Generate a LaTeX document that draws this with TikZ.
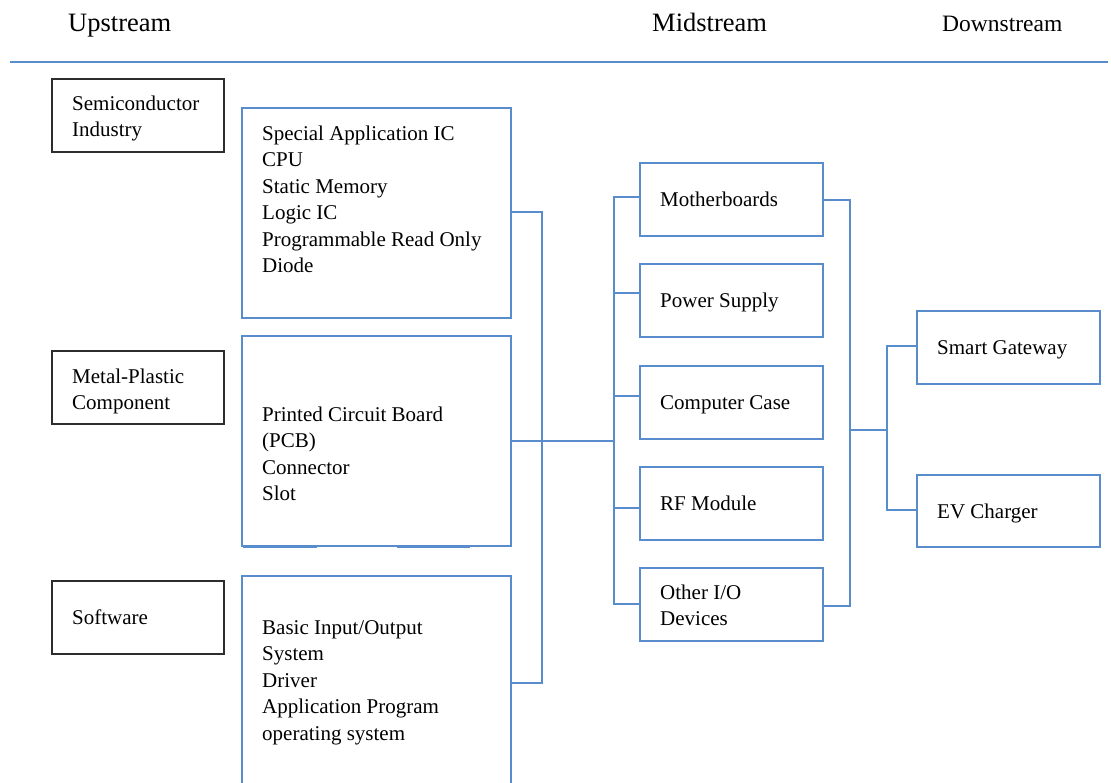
\documentclass[tikz,border=0pt]{standalone}
\usepackage{fontspec}
\setmainfont{Liberation Serif}
\definecolor{lb}{RGB}{88,140,205}
\definecolor{dk}{RGB}{45,45,45}
\newcommand\tstrut{\rule{0pt}{16pt}}
\begin{document}
\begin{tikzpicture}[x=1pt,y=-1pt,
  bbox/.style={draw=dk, line width=1.4pt, rectangle, inner sep=0pt, outer sep=0pt, anchor=north west},
  lbox/.style={draw=lb, line width=1.6pt, rectangle, inner sep=0pt, outer sep=0pt, anchor=north west},
  txt/.style={font=\fontsize{21}{26.5}\selectfont, align=left, inner sep=0pt, anchor=north west},
  hd/.style={font=\fontsize{26.5}{30}\selectfont, inner sep=0pt, anchor=base west},
  hds/.style={font=\fontsize{23.5}{28}\selectfont, inner sep=0pt, anchor=base west},
  conn/.style={draw=lb, line width=1.6pt}]
\useasboundingbox (0,0) rectangle (1111,783);

% headers
\node[hd] (up) at (68,32) {Upstream};
\node[hd] (mid) at (652,32) {Midstream};
\node[hds] (down) at (942,32) {Downstream};
\coordinate (hl) at (10,62);
\coordinate (hr) at (1108,62);
\draw[conn] (hl) -- (hr);

% upstream sources
\node[bbox, minimum width=172pt, minimum height=73pt] (semi) at (52,79) {};
\node[bbox, minimum width=172pt, minimum height=73pt] (metal) at (52,351) {};
\node[bbox, minimum width=172pt, minimum height=73pt] (soft) at (52,581) {};
\node[txt] (semiT) at (72,94) {\tstrut Semiconductor\\Industry};
\node[txt] (metalT) at (72,367) {\tstrut Metal-Plastic\\Component};
\node[txt] (softT) at (72,608) {\tstrut Software};

% upstream products
\node[lbox, minimum width=269pt, minimum height=210pt] (sp) at (242,108) {};
\node[lbox, minimum width=269pt, minimum height=210pt] (pcb) at (242,336) {};
\node[lbox, minimum width=269pt, minimum height=214pt] (bios) at (242,576) {};
\node[txt] (spT) at (262,124) {\tstrut Special Application IC\\CPU\\Static Memory\\Logic IC\\Programmable Read Only\\Diode};
\node[txt] (pcbT) at (262,405) {\tstrut Printed Circuit Board\\(PCB)\\Connector\\Slot};
\node[txt] (biosT) at (262,618) {\tstrut Basic Input/Output\\System\\Driver\\Application Program\\operating system};
\coordinate (pa) at (243,547.5);
\coordinate (pb) at (317,547.5);
\coordinate (pc) at (397,547.5);
\coordinate (pd) at (470,547.5);
\draw[conn, line width=1.2pt] (pa) -- (pb) (pc) -- (pd);

% midstream
\node[lbox, minimum width=183pt, minimum height=73pt] (mb) at (640,163) {};
\node[lbox, minimum width=183pt, minimum height=73pt] (ps) at (640,264) {};
\node[lbox, minimum width=183pt, minimum height=73pt] (cc) at (640,366) {};
\node[lbox, minimum width=183pt, minimum height=73pt] (rf) at (640,467) {};
\node[lbox, minimum width=183pt, minimum height=73pt] (oio) at (640,568) {};
\node[txt] (mbT) at (660,190) {\tstrut Motherboards};
\node[txt] (psT) at (660,291) {\tstrut Power Supply};
\node[txt] (ccT) at (660,393) {\tstrut Computer Case};
\node[txt] (rfT) at (660,494) {\tstrut RF Module};
\node[txt] (oioT) at (660,583) {\tstrut Other I/O\\Devices};

% downstream
\node[lbox, minimum width=183pt, minimum height=73pt] (sg) at (917,311) {};
\node[lbox, minimum width=183pt, minimum height=72pt] (ev) at (917,475) {};
\node[txt] (sgT) at (937,338) {\tstrut Smart Gateway};
\node[txt] (evT) at (937,502) {\tstrut EV Charger};

% upstream connectors
\coordinate (j1) at (542,441);
\coordinate (jt) at (542,212);
\coordinate (jb) at (542,683);
\draw[conn] (sp.east |- jt) -- (jt) -- (jb) -- (bios.east |- jb);
\coordinate (mbus) at (614,441);
\draw[conn] (pcb.east |- mbus) -- (mbus);

% midstream bus
\coordinate (mt) at (614,197);
\coordinate (m2) at (614,293);
\coordinate (m3) at (614,396);
\coordinate (m4) at (614,508);
\coordinate (mbot) at (614,604);
\draw[conn] (mb.west |- mt) -- (mt) -- (mbot) -- (oio.west |- mbot);
\draw[conn] (m2) -- (m2 -| ps.west);
\draw[conn] (m3) -- (m3 -| cc.west);
\draw[conn] (m4) -- (m4 -| rf.west);

% right bus
\coordinate (rt) at (850,200);
\coordinate (rj) at (850,430);
\coordinate (rb) at (850,606);
\coordinate (st) at (887,346);
\coordinate (sb) at (887,510);
\draw[conn] (mb.east |- rt) -- (rt) -- (rb) -- (oio.east |- rb);
\draw[conn] (rj) -- (rj -| st);
\draw[conn] (sg.west |- st) -- (st) -- (sb) -- (ev.west |- sb);
\end{tikzpicture}
\end{document}
